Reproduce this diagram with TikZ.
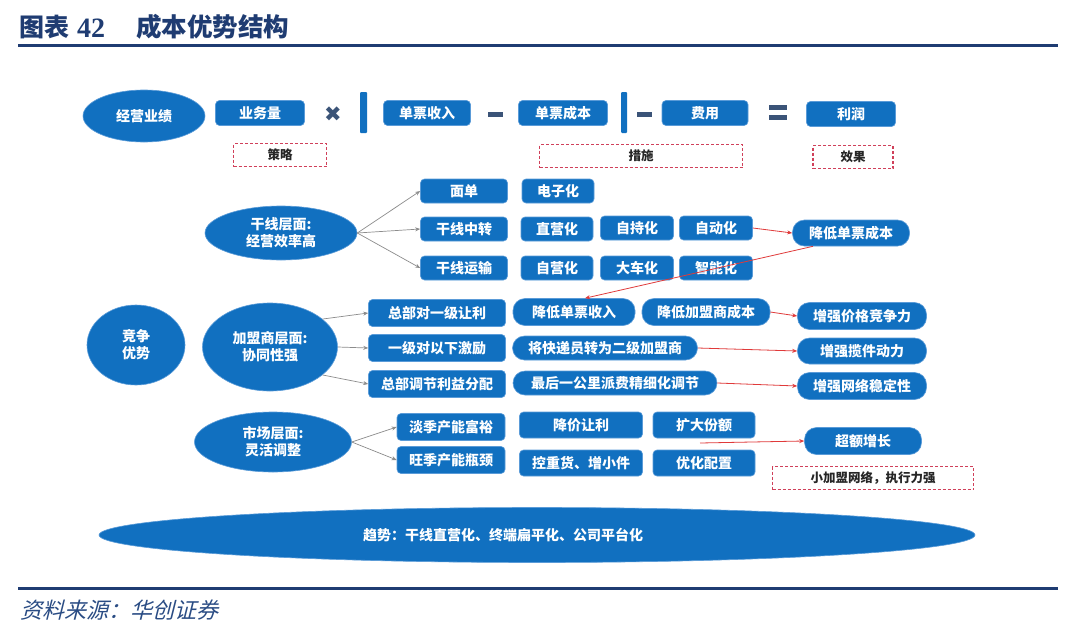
\documentclass[tikz,border=0pt]{standalone}
\usepackage{fontspec}
\setmainfont{Noto Sans CJK SC}
\newfontfamily\serifb{Liberation Serif}
\newfontfamily\cjkslant[FakeSlant=0.25]{Noto Sans CJK SC}
\newfontfamily\symfont{DejaVu Sans}
\usetikzlibrary{arrows.meta,shapes.geometric}
\definecolor{boxblue}{HTML}{1170C0}
\definecolor{boxedge}{HTML}{5A9BD8}
\definecolor{navy}{HTML}{1F3C72}
\definecolor{slate}{HTML}{3B5478}
\definecolor{dred}{HTML}{D0405A}
\definecolor{rline}{HTML}{E03A3A}
\definecolor{garr}{HTML}{8C8C8C}
\definecolor{srcblue}{HTML}{2A4C84}
\tikzset{
  bx/.style={fill=boxblue, draw=boxedge, line width=0.6pt, rounded corners=4pt, text=white,
    font=\bfseries\fontsize{14}{15}\selectfont, inner sep=0pt, minimum height=25pt},
  pill/.style={bx, rounded corners=12pt},
  ell/.style={ellipse, fill=boxblue, draw=boxedge, line width=0.6pt, text=white,
    font=\bfseries\fontsize{14}{17}\selectfont, inner sep=0pt, align=center},
  dbox/.style={draw=dred, densely dashed, line width=1.1pt, text=black!85,
    font=\bfseries\fontsize{12.5}{14}\selectfont, inner sep=0pt, minimum height=23pt},
  garrow/.style={-{Stealth[length=5pt,width=4pt]}, draw=garr, line width=0.7pt},
  rarrow/.style={-{Stealth[length=5pt,width=4pt]}, draw=rline, line width=0.8pt},
}
\begin{document}
\begin{tikzpicture}[x=1pt,y=-1pt]
\useasboundingbox (0,0) rectangle (1080,635);
\fill[white] (0,0) rectangle (1080,635);

% title and rules
\node[anchor=west, text=navy, font=\bfseries\fontsize{25}{28}\selectfont, inner sep=0pt] (t1) at (19,27) {图表};
\node[anchor=west, text=navy, font=\serifb\bfseries\fontsize{28}{28}\selectfont, inner sep=0pt] (t0) at (77,28) {42};
\node[anchor=west, text=navy, font=\bfseries\fontsize{25.5}{28}\selectfont, inner sep=0pt] (t2) at (136,27) {成本优势结构};
\draw[navy, line width=3pt] (18,45) -- (1058,45);
\draw[navy, line width=3pt] (18,588.5) -- (1058,588.5);
\node[anchor=west, text=srcblue, font=\cjkslant\fontsize{22}{24}\selectfont, inner sep=0pt] (src) at (20,610) {资料来源：华创证券};

% row 1: formula
\node[ell, minimum width=122pt, minimum height=52pt] (jy) at (144,116) {经营业绩};
\node[bx, minimum width=89pt] (ywl) at (260,113) {业务量};
\node[text=slate, font=\symfont\fontsize{21}{21}\selectfont, inner sep=0pt] (times) at (333,114) {✖};
\fill[boxblue, rounded corners=1pt] (360,92) rectangle (367,133);
\node[bx, minimum width=87pt] (dpsr) at (427,113) {单票收入};
\fill[slate] (488,111.5) rectangle (503,116.5);
\node[bx, minimum width=89pt] (dpcb) at (563,113) {单票成本};
\fill[boxblue, rounded corners=1pt] (621,92) rectangle (627,133);
\fill[slate] (637,111.5) rectangle (652,116.5);
\node[bx, minimum width=86pt] (fy) at (705,113) {费用};
\fill[slate] (769,105) rectangle (787,110);
\fill[slate] (769,115) rectangle (787,120);
\node[bx, minimum width=89pt] (lr) at (851,114) {利润};

\node[dbox, minimum width=93pt] (cl) at (280,155) {策略};
\node[dbox, minimum width=203pt] (cs) at (641,156) {措施};
\node[dbox, minimum width=80pt] (xg) at (853,157) {效果};

% section 2: trunk line
\node[ell, minimum width=152pt, minimum height=54pt] (gx) at (281,233) {干线层面:\\经营效率高};
\node[bx, minimum width=87pt, minimum height=24pt] (md) at (464,191) {面单};
\node[bx, minimum width=87pt, minimum height=24pt] (gxzz) at (464,229) {干线中转};
\node[bx, minimum width=87pt, minimum height=24pt] (gxys) at (464,268) {干线运输};
\node[bx, minimum width=72pt, minimum height=24pt] (dzh) at (558,191) {电子化};
\node[bx, minimum width=72pt, minimum height=24pt] (zyh) at (557,229) {直营化};
\node[bx, minimum width=73pt, minimum height=24pt] (zch) at (637,228) {自持化};
\node[bx, minimum width=73pt, minimum height=24pt] (zdh) at (716,228) {自动化};
\node[bx, minimum width=72pt, minimum height=24pt] (zyh2) at (557,268) {自营化};
\node[bx, minimum width=73pt, minimum height=24pt] (dch) at (637,268) {大车化};
\node[bx, minimum width=73pt, minimum height=24pt] (znh) at (716,268) {智能化};
\node[pill, minimum width=117pt, minimum height=26pt] (jdcb) at (851,233) {降低单票成本};

\draw[garrow] (gx.east) -- (md.west);
\draw[garrow] (gx.east) -- (gxzz.west);
\draw[garrow] (gx.east) -- (gxys.west);

% section 3: franchisees
\node[ell, minimum width=98pt, minimum height=80pt] (jz) at (136,345) {竞争\\优势};
\node[ell, minimum width=135pt, minimum height=88pt] (jm) at (270,347) {加盟商层面:\\协同性强};
\node[bx, minimum width=137pt, minimum height=27pt] (zb1) at (437,313) {总部对一级让利};
\node[bx, minimum width=137pt, minimum height=27pt] (yj) at (437,348) {一级对以下激励};
\node[bx, minimum width=137pt, minimum height=27pt] (zb2) at (437,384) {总部调节利益分配};
\node[pill, minimum width=122pt, minimum height=27pt] (djsr) at (574,312) {降低单票收入};
\node[pill, minimum width=128pt, minimum height=27pt] (djjm) at (706,312) {降低加盟商成本};
\node[pill, minimum width=185pt, minimum height=24pt] (kdy) at (605,348) {将快递员转为二级加盟商};
\node[pill, minimum width=204pt, minimum height=24pt] (zhyg) at (615,383) {最后一公里派费精细化调节};
\node[pill, minimum width=129pt, minimum height=27pt] (zq1) at (862,316) {增强价格竞争力};
\node[pill, minimum width=129pt, minimum height=26pt] (zq2) at (862,351) {增强揽件动力};
\node[pill, minimum width=129pt, minimum height=27pt] (zq3) at (862,386) {增强网络稳定性};

\draw[garrow] (jm.28) -- (zb1.west);
\draw[garrow] (jm.east) -- (yj.west);
\draw[garrow] (jm.-28) -- (zb2.west);

% section 4: market
\node[ell, minimum width=157pt, minimum height=60pt] (sc) at (273,442) {市场层面:\\灵活调整};
\node[bx, minimum width=108pt, minimum height=27pt] (dj) at (451,427) {淡季产能富裕};
\node[bx, minimum width=108pt, minimum height=27pt] (wj) at (451,460) {旺季产能瓶颈};
\node[bx, minimum width=123pt, minimum height=26pt] (jjrl) at (581,425) {降价让利};
\node[bx, minimum width=102pt, minimum height=26pt] (kdfe) at (704,425) {扩大份额};
\node[bx, minimum width=123pt, minimum height=26pt] (kzh) at (581,463) {控重货、增小件};
\node[bx, minimum width=102pt, minimum height=26pt] (yhpz) at (704,463) {优化配置};
\node[pill, minimum width=117pt, minimum height=27pt] (cezz) at (863,441) {超额增长};
\node[dbox, minimum width=201pt] (xjm) at (873,478) {小加盟网络，执行力强};
\coordinate (rs) at (700,443);

\draw[garrow] (sc.east) -- (dj.west);
\draw[garrow] (sc.east) -- (wj.west);

% red arrows
\draw[rarrow] (zdh.east) -- (jdcb.west);
\draw[rarrow] ([xshift=-38pt]jdcb.south) -- ([xshift=11pt]djsr.north);
\draw[rarrow] (djjm.east) -- (zq1.west);
\draw[rarrow] (kdy.east) -- (zq2.west);
\draw[rarrow] (zhyg.east) -- (zq3.west);
\draw[rarrow] (rs) -- (cezz.west);

% bottom trend
\node[ellipse, fill=boxblue, draw=boxedge, line width=0.6pt, minimum width=876pt, minimum height=55pt, inner sep=0pt] (qs) at (537,535) {};
\node[text=white, font=\bfseries\fontsize{14}{15}\selectfont, inner sep=0pt] (qst) at (503,535) {趋势：干线直营化、终端扁平化、公司平台化};
\end{tikzpicture}
\end{document}
